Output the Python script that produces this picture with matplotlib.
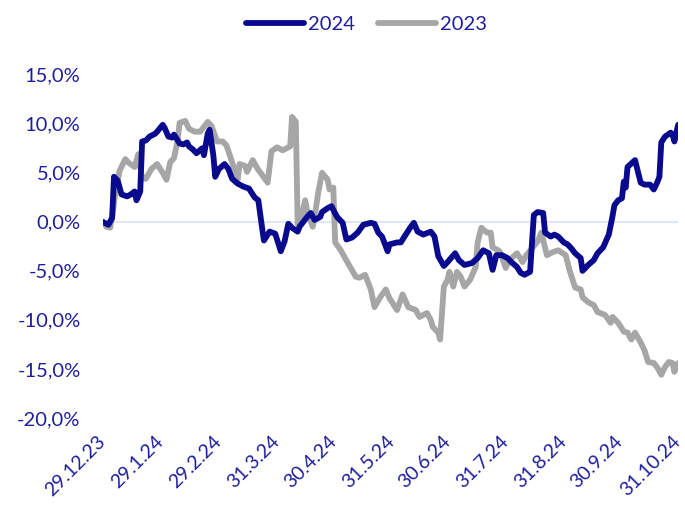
from matplotlib import pyplot as plt
from matplotlib.ticker import FuncFormatter
import numpy as np
import pandas as pd

start = pd.Timestamp("2023-12-29")

# days since 29.12.23 and cumulative change in %
days_2024 = [0, 3, 5, 6, 8, 10, 13, 15, 17, 18, 20, 21, 23, 25, 28, 29, 32, 33, 35, 37,
             38, 41, 43, 45, 46, 48, 50, 53, 54, 56, 57, 59, 60, 62, 65, 67, 69, 72, 75, 78,
             81, 83, 85, 86, 89, 92, 95, 97, 99, 101, 104, 105, 109, 111, 113, 116, 117, 120, 122, 125,
             128, 130, 133, 136, 139, 143, 145, 147, 149, 152, 153, 157, 159, 161, 164, 166, 168, 171, 175, 177,
             179, 182, 184, 188, 190, 193, 197, 200, 203, 206, 208, 210, 213, 216, 218, 221, 223, 225, 228, 230,
             232, 235, 236, 239, 241, 243, 246, 248, 250, 252, 255, 256, 259, 262, 264, 267, 270, 272, 273, 275,
             277, 278, 279, 280, 284, 287, 289, 292, 294, 296, 297, 298, 300, 303, 304, 305, 307]
ret_2024 = [0.0, -0.3, 0.4, 4.6, 4.2, 2.8, 2.6, 2.8, 3.1, 2.2, 3.1, 8.2, 8.3, 8.7, 9.0, 9.2, 9.9, 9.6, 8.7, 8.6,
            8.9, 8.0, 7.9, 8.1, 7.7, 7.4, 7.0, 7.5, 6.8, 9.0, 9.4, 6.8, 4.6, 5.4, 5.9, 5.4, 4.4, 3.9, 3.6, 3.4,
            2.5, 2.2, -0.6, -1.9, -1.0, -1.2, -3.0, -2.0, -0.2, -0.6, -1.0, -0.5, 0.5, 0.9, 0.2, 0.5, 1.0, 1.4, 1.6, 0.5,
            -0.1, -1.8, -1.6, -1.1, -0.3, -0.1, -0.2, -1.1, -1.5, -3.0, -2.3, -2.1, -2.1, -1.5, -0.6, -0.1, -1.0, -1.3, -1.0, -1.5,
            -3.5, -4.5, -4.1, -3.2, -3.9, -4.4, -4.2, -3.7, -2.9, -3.2, -4.9, -3.4, -3.4, -3.7, -4.1, -4.6, -5.2, -5.4, -5.1, 0.7,
            1.0, 0.9, -1.1, -1.5, -1.3, -1.5, -2.1, -2.3, -2.7, -3.2, -3.7, -5.0, -4.4, -3.9, -3.2, -2.6, -1.3, 0.6, 1.7, 2.2,
            2.4, 4.1, 3.5, 5.6, 6.3, 4.0, 3.8, 3.8, 3.3, 4.1, 4.6, 8.1, 8.7, 9.1, 8.9, 8.2, 9.9]

days_2023 = [0, 2, 4, 5, 7, 9, 12, 14, 17, 19, 21, 23, 26, 29, 32, 34, 36, 38, 40, 41,
             44, 46, 49, 52, 56, 58, 61, 64, 66, 69, 72, 73, 76, 77, 80, 83, 85, 88, 90, 93,
             96, 99, 100, 101, 103, 104, 106, 108, 109, 112, 113, 115, 117, 120, 121, 123, 124, 127, 129, 132,
             135, 137, 140, 143, 145, 148, 151, 153, 157, 160, 163, 167, 169, 173, 175, 176, 179, 180, 182, 184,
             185, 187, 189, 191, 193, 196, 199, 200, 202, 205, 207, 208, 211, 212, 215, 217, 221, 224, 226, 229,
             232, 234, 237, 240, 243, 247, 249, 252, 255, 256, 259, 262, 264, 268, 271, 272, 275, 278, 280, 282,
             284, 287, 289, 291, 294, 296, 298, 300, 302, 304, 305, 307]
ret_2023 = [0.0, -0.5, -0.6, 0.5, 3.3, 5.2, 6.4, 6.0, 5.6, 6.9, 4.4, 4.4, 5.4, 5.9, 5.0, 4.3, 6.1, 6.5, 8.3, 10.1,
            10.3, 9.5, 9.2, 9.2, 10.2, 9.8, 8.2, 8.2, 7.8, 6.1, 4.3, 5.9, 5.7, 5.1, 6.3, 5.3, 4.8, 4.0, 7.2, 7.6,
            7.3, 7.6, 7.7, 10.7, 10.2, -0.2, 0.5, 2.2, 1.2, -0.5, 0.5, 3.0, 5.0, 4.3, 3.3, 3.5, -2.1, -2.9, -3.6, -4.6,
            -5.6, -5.7, -5.4, -6.9, -8.7, -7.7, -6.9, -7.8, -9.0, -7.4, -8.7, -9.0, -9.7, -9.3, -10.0, -10.7, -11.3, -12.0, -6.6, -5.9,
            -5.1, -6.6, -5.1, -5.6, -6.6, -5.9, -4.6, -2.1, -0.6, -1.1, -1.1, -2.6, -2.9, -3.1, -4.7, -3.9, -3.2, -4.1, -3.4, -2.7,
            -2.0, -1.1, -3.4, -3.1, -2.9, -3.4, -4.9, -6.7, -6.9, -7.7, -8.2, -8.5, -9.2, -9.5, -10.3, -9.7, -10.3, -11.2, -11.3, -12.0,
            -11.3, -12.3, -13.1, -14.3, -14.4, -14.9, -15.6, -14.8, -14.3, -14.4, -15.3, -14.4]

tick_dates = ["2023-12-29", "2024-01-29", "2024-02-29", "2024-03-31", "2024-04-30", "2024-05-31",
              "2024-06-30", "2024-07-31", "2024-08-31", "2024-09-30", "2024-10-31"]
tick_labels = ["29.12.23", "29.1.24", "29.2.24", "31.3.24", "30.4.24", "31.5.24",
               "30.6.24", "31.7.24", "31.8.24", "30.9.24", "31.10.24"]

navy = "#0A0A8F"
grey = "#A6A6A6"
txt = "#1F1F9C"

plt.rcParams["font.family"] = ["Lato", "DejaVu Sans"]

x24 = start + pd.to_timedelta(days_2024, unit="D")
x23 = start + pd.to_timedelta(days_2023, unit="D")

fig = plt.figure(figsize=(6.85, 5.09), dpi=100)
ax = fig.add_axes([0.150, 0.179, 0.840, 0.674])

ax.axhline(0, color="#D6E2F5", lw=1.2, zorder=1)
ax.plot(x24, ret_2024, color=navy, lw=4.2, solid_joinstyle="round", solid_capstyle="round", label="2024", zorder=3)
ax.plot(x23, ret_2023, color=grey, lw=4.2, solid_joinstyle="round", solid_capstyle="round", label="2023", zorder=2)

ax.set_ylim(-20, 15)
ax.set_yticks(np.arange(-20, 16, 5))
ax.yaxis.set_major_formatter(FuncFormatter(lambda v, p: f"{v:.1f}%".replace(".", ",")))
ax.set_xlim(start, pd.Timestamp("2024-10-31"))
ax.set_xticks(pd.to_datetime(tick_dates))
ax.set_xticklabels(tick_labels, rotation=45, ha="right", va="center", rotation_mode="anchor")

ax.tick_params(axis="y", length=0, pad=16, labelsize=14.5, labelcolor=txt)
ax.tick_params(axis="x", length=0, pad=15, labelsize=14, labelcolor=txt)
for s in ax.spines.values():
    s.set_visible(False)

leg = fig.legend(loc="upper center", bbox_to_anchor=(0.535, 1.005), ncol=2, frameon=False,
                 fontsize=14.5, handlelength=2.9, handletextpad=0.2, columnspacing=1.1)
for t in leg.get_texts():
    t.set_color(txt)

plt.savefig("out.png", dpi=100)
